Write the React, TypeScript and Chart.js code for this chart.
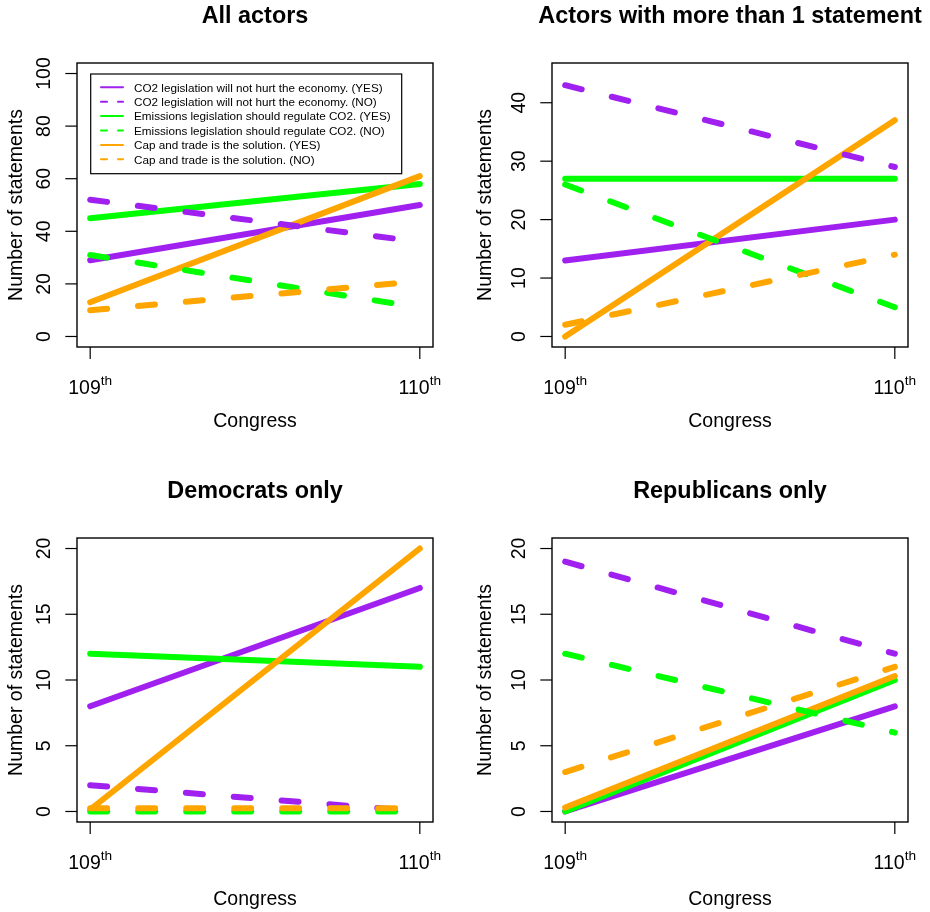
import React, { useEffect, useRef } from "react";
import { Chart, registerables } from "chart.js";

Chart.register(...registerables);

// ---------- data ----------
const congress = [109, 110];
const congressLabels = ["109", "110"];
const congressSuffix = "th";

const seriesLabels = [
  "CO2 legislation will not hurt the economy. (YES)",
  "CO2 legislation will not hurt the economy. (NO)",
  "Emissions legislation should regulate CO2. (YES)",
  "Emissions legislation should regulate CO2. (NO)",
  "Cap and trade is the solution. (YES)",
  "Cap and trade is the solution. (NO)",
];
const seriesColors = ["#A020F0", "#A020F0", "#00FF00", "#00FF00", "#FFA500", "#FFA500"];
const seriesDashed = [false, true, false, true, false, true];
// drawing sequence (later is on top)
const drawRank = [0, 3, 1, 4, 2, 5];

const allActorsValues = [[29, 50], [52, 36], [45, 58], [31, 11], [13, 61], [10, 21]];
const multiStatementValues = [[13, 20], [43, 29], [27, 27], [26, 5], [0, 37], [2, 14]];
const democratValues = [[8, 17], [2, 0], [12, 11], [0, 0], [0.15, 20], [0.25, 0.25]];
const republicanValues = [[0, 8], [19, 12], [0, 10], [12, 6], [0.3, 10.3], [3, 11]];

const allActorsTicks = [0, 20, 40, 60, 80, 100];
const multiStatementTicks = [0, 10, 20, 30, 40];
const partyTicks = [0, 5, 10, 15, 20];

const panelTitles = [
  "All actors",
  "Actors with more than 1 statement",
  "Democrats only",
  "Republicans only",
];
const yTitle = "Number of statements";
const xTitle = "Congress";

// ---------- styling ----------
const FONT = "'Liberation Sans', Arial, Helvetica, sans-serif";

type PanelCfg = {
  title: string;
  values: number[][];
  ticks: number[];
  yMin: number;
  yMax: number;
  left: number;
  top: number;
  padding: { left: number; right: number; top: number; bottom: number };
  yTitleGap: number;
  xTitleGap: number;
  legend: boolean;
};

const panels: PanelCfg[] = [
  {
    title: panelTitles[0], values: allActorsValues, ticks: allActorsTicks,
    yMin: -4, yMax: 104, left: 0, top: 0,
    padding: { left: 77, right: 32, top: 63, bottom: 109 },
    yTitleGap: 55.3, xTitleGap: 79.7, legend: true,
  },
  {
    title: panelTitles[1], values: multiStatementValues, ticks: multiStatementTicks,
    yMin: -1.8, yMax: 46.8, left: 465, top: 0,
    padding: { left: 87, right: 22, top: 63, bottom: 109 },
    yTitleGap: 61, xTitleGap: 79.7, legend: false,
  },
  {
    title: panelTitles[2], values: democratValues, ticks: partyTicks,
    yMin: -0.8, yMax: 20.8, left: 0, top: 456,
    padding: { left: 77, right: 32, top: 82, bottom: 90 },
    yTitleGap: 55.3, xTitleGap: 83, legend: false,
  },
  {
    title: panelTitles[3], values: republicanValues, ticks: partyTicks,
    yMin: -0.8, yMax: 20.8, left: 465, top: 456,
    padding: { left: 87, right: 22, top: 82, bottom: 90 },
    yTitleGap: 61, xTitleGap: 83, legend: false,
  },
];

const rAxesPlugin = {
  id: "rAxes",
  afterDatasetsDraw(chart: any, _args: any, opts: any) {
    const ctx: CanvasRenderingContext2D = chart.ctx;
    const area = chart.chartArea;
    const xs = chart.scales.x;
    const ys = chart.scales.y;
    const cx = (area.left + area.right) / 2;
    const cy = (area.top + area.bottom) / 2;
    ctx.save();
    ctx.strokeStyle = "#000";
    ctx.fillStyle = "#000";
    ctx.lineCap = "butt";
    ctx.setLineDash([]);

    // box
    ctx.lineWidth = 1.4;
    ctx.strokeRect(area.left, area.top, area.right - area.left, area.bottom - area.top);

    // y axis ticks + labels
    ctx.lineWidth = 1.2;
    ctx.font = `19.5px ${FONT}`;
    for (const t of opts.yTicks as number[]) {
      const y = ys.getPixelForValue(t);
      ctx.beginPath();
      ctx.moveTo(area.left - 11.7, y);
      ctx.lineTo(area.left, y);
      ctx.stroke();
      ctx.save();
      ctx.translate(area.left - 27, y);
      ctx.rotate(-Math.PI / 2);
      ctx.textAlign = "center";
      ctx.textBaseline = "alphabetic";
      ctx.fillText(String(t), 0, 0);
      ctx.restore();
    }

    // x axis ticks + labels
    congress.forEach((c, i) => {
      const x = xs.getPixelForValue(c);
      ctx.beginPath();
      ctx.moveTo(x, area.bottom);
      ctx.lineTo(x, area.bottom + 12);
      ctx.stroke();
      ctx.font = `19.5px ${FONT}`;
      const w1 = ctx.measureText(congressLabels[i]).width;
      ctx.font = `13.7px ${FONT}`;
      const w2 = ctx.measureText(congressSuffix).width;
      const start = x - (w1 + w2) / 2;
      ctx.textAlign = "left";
      ctx.textBaseline = "alphabetic";
      ctx.font = `19.5px ${FONT}`;
      ctx.fillText(congressLabels[i], start, area.bottom + 47);
      ctx.font = `13.7px ${FONT}`;
      ctx.fillText(congressSuffix, start + w1, area.bottom + 38);
    });

    // axis titles
    ctx.font = `19.5px ${FONT}`;
    ctx.textAlign = "center";
    ctx.fillText(opts.xTitle, cx, area.bottom + opts.xTitleGap);
    ctx.save();
    ctx.translate(area.left - opts.yTitleGap, cy);
    ctx.rotate(-Math.PI / 2);
    ctx.fillText(opts.yTitle, 0, 0);
    ctx.restore();

    // main title
    ctx.font = `bold 23.4px ${FONT}`;
    ctx.fillText(opts.title, cx, area.top - 40.3);

    // legend
    if (opts.legend) {
      const bx = area.left + 13.7;
      const by = area.top + 11;
      const bw = 311;
      const bh = 99.7;
      ctx.lineWidth = 1.2;
      ctx.strokeStyle = "#000";
      ctx.strokeRect(bx, by, bw, bh);
      ctx.font = `11.7px ${FONT}`;
      ctx.textAlign = "left";
      ctx.textBaseline = "alphabetic";
      chart.data.datasets.forEach((ds: any, i: number) => {
        const ry = by + 13.3 + i * 14.4;
        ctx.save();
        ctx.strokeStyle = ds.borderColor;
        ctx.lineWidth = 2;
        ctx.lineCap = "round";
        ctx.setLineDash(seriesDashed[i] ? [6, 11] : []);
        ctx.beginPath();
        ctx.moveTo(bx + 10.3, ry);
        ctx.lineTo(bx + 32.3, ry);
        ctx.stroke();
        ctx.restore();
        ctx.fillStyle = "#000";
        ctx.fillText(ds.label, bx + 43.3, ry + 4.2);
      });
    }
    ctx.restore();
  },
};

function Panel({ cfg }: { cfg: PanelCfg }) {
  const ref = useRef<HTMLCanvasElement | null>(null);
  useEffect(() => {
    if (!ref.current) return;
    const chart = new Chart(ref.current, {
      type: "line",
      data: {
        datasets: seriesLabels.map((label, i) => ({
          label,
          data: congress.map((c, j) => ({ x: c, y: cfg.values[i][j] })),
          borderColor: seriesColors[i],
          backgroundColor: seriesColors[i],
          borderWidth: 6,
          borderDash: seriesDashed[i] ? [17, 31] : [],
          borderCapStyle: "round",
          borderJoinStyle: "round",
          pointRadius: 0,
          pointHoverRadius: 0,
          fill: false,
          tension: 0,
          order: 5 - drawRank[i],
        })),
      },
      options: {
        animation: false,
        responsive: false,
        maintainAspectRatio: false,
        devicePixelRatio: 1,
        events: [],
        layout: { padding: cfg.padding },
        plugins: {
          legend: { display: false },
          tooltip: { enabled: false },
          title: { display: false },
          rAxes: {
            yTicks: cfg.ticks,
            title: cfg.title,
            xTitle,
            yTitle,
            yTitleGap: cfg.yTitleGap,
            xTitleGap: cfg.xTitleGap,
            legend: cfg.legend,
          },
        } as any,
        scales: {
          x: { type: "linear", min: 108.96, max: 110.04, display: false },
          y: { type: "linear", min: cfg.yMin, max: cfg.yMax, display: false },
        },
      },
      plugins: [rAxesPlugin as any],
    } as any);
    return () => chart.destroy();
  }, [cfg]);
  return (
    <canvas
      ref={ref}
      width={465}
      height={456}
      style={{ position: "absolute", left: cfg.left, top: cfg.top, width: 465, height: 456 }}
    />
  );
}

export default function App() {
  return (
    <div
      style={{
        position: "fixed",
        left: 0,
        top: 0,
        width: 930,
        height: 912,
        background: "#fff",
        overflow: "hidden",
      }}
    >
      {panels.map((p, i) => (
        <Panel key={i} cfg={p} />
      ))}
    </div>
  );
}
